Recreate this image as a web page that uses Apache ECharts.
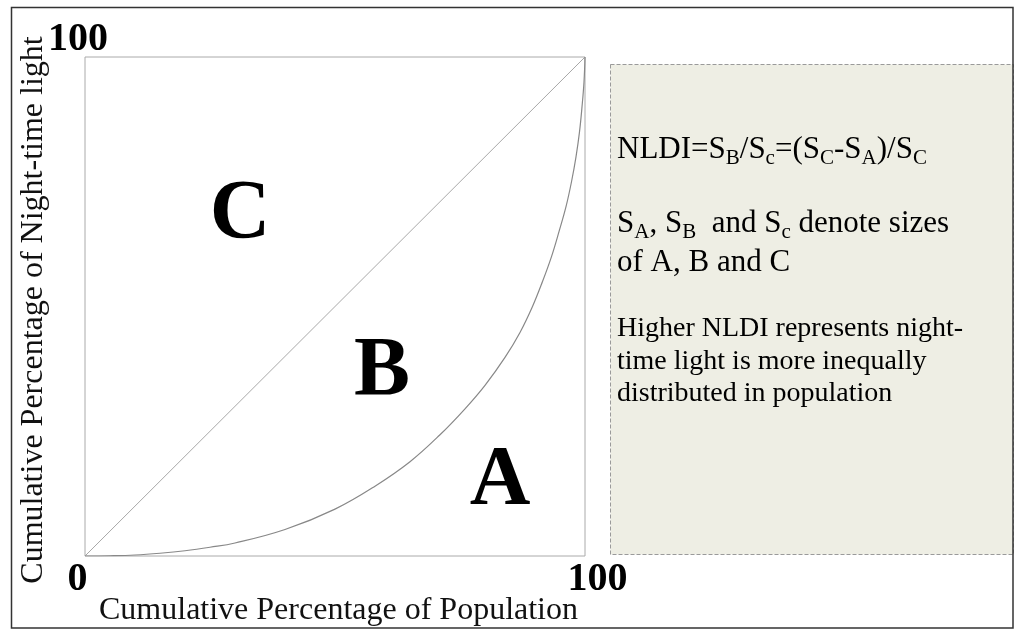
<!DOCTYPE html>
<html>
<head>
<meta charset="utf-8">
<script src="https://cdn.jsdelivr.net/npm/echarts@6/dist/echarts.min.js"></script>
<style>html,body{margin:0;padding:0;background:#fff;}#c{width:1024px;height:636px;}</style>
</head>
<body>
<div id="c"></div>
<script>
// ---- data ----
const xTicks = [0, 100];
const yTicks = [100];
const equalityLine = [[0, 0], [100, 100]];
const lorenzX = [0, 5, 10, 15, 20, 25, 30, 40, 50, 58, 65, 71, 76, 80, 84, 87, 89.5, 91.5, 93.3, 94.8, 96.2, 97.3, 98.2, 98.9, 99.4, 99.8, 100];
const lorenzY = [0, 0.05, 0.2, 0.55, 1.05, 1.75, 2.6, 5.3, 9.4, 14.0, 18.9, 24.3, 29.5, 34.2, 39.8, 44.8, 50, 55, 60, 65, 70, 75, 80, 85, 90, 95, 100];
const regionNames = ['C', 'B', 'A'];
const regionX = [31, 59.4, 83];
const regionY = [68, 36.6, 14.8];
const xTitle = 'Cumulative Percentage of Population';
const yTitle = 'Cumulative Percentage of Night-time light';
const noteLines = [
  '{n|NLDI=S}{s|B}{n|/S}{s|c}{n|=(S}{s|C}{n|-S}{s|A}{n|)/S}{s|C}',
  '{n|S}{s|A}{n|, S}{s|B}{n|  and S}{s|c}{n| denote sizes}',
  '{n|of A, B and C}',
  '{m|Higher NLDI represents night-}',
  '{m|time light is more inequally}',
  '{m|distributed in population}'
];
const noteLineY = [150, 224, 263, 329, 362, 394];

// ---- chart ----
const serif = 'Liberation Serif';
const chart = echarts.init(document.getElementById('c'));
const lorenz = lorenzX.map((x, i) => [x, lorenzY[i]]);
const regions = regionNames.map((n, i) => ({ name: n, value: [regionX[i], regionY[i]] }));

const richText = {
  n: { fontFamily: serif, fontSize: 31, color: '#111' },
  m: { fontFamily: serif, fontSize: 28, color: '#111' },
  s: { fontFamily: serif, fontSize: 21, color: '#111', padding: [16, 0, 0, 0] }
};

chart.setOption({
  animation: false,
  backgroundColor: '#fff',
  grid: { left: 85, top: 57, width: 500, height: 499, outerBoundsMode: 'none', containLabel: false,
    show: true, borderColor: '#aaaaaa', borderWidth: 1, backgroundColor: '#fff' },
  xAxis: {
    type: 'value', min: 0, max: 100, interval: 100,
    axisLine: { show: false }, axisTick: { show: false }, splitLine: { show: false },
    axisLabel: {
      margin: 4,
      formatter: v => xTicks.indexOf(v) >= 0 ? (v === 0 ? '{l|' + v + '}' : '{r|' + v + '}') : '',
      rich: {
        l: { fontFamily: serif, fontWeight: 'bold', fontSize: 40, color: '#000', padding: [0, 15, 0, 0] },
        r: { fontFamily: serif, fontWeight: 'bold', fontSize: 40, color: '#000', padding: [0, 0, 0, 25] }
      }
    },
    name: xTitle, nameLocation: 'middle', nameGap: 55, nameMoveOverlap: false,
    nameTextStyle: { fontFamily: serif, fontSize: 32, color: '#111', verticalAlign: 'middle', padding: [0, 0, 0, 7] }
  },
  yAxis: {
    type: 'value', min: 0, max: 100, interval: 100,
    axisLine: { show: false }, axisTick: { show: false }, splitLine: { show: false },
    axisLabel: {
      margin: 7, align: 'center', verticalAlign: 'bottom', lineHeight: 34,
      formatter: v => yTicks.indexOf(v) >= 0 ? String(v) : '',
      fontFamily: serif, fontWeight: 'bold', fontSize: 40, color: '#000'
    },
    name: yTitle, nameLocation: 'middle', nameGap: 51, nameMoveOverlap: false,
    nameTextStyle: { fontFamily: serif, fontSize: 32, color: '#111', verticalAlign: 'middle', padding: [0, 7, 0, 0] }
  },
  graphic: [
    { type: 'rect', z: -1, shape: { x: 610.5, y: 64.5, width: 403, height: 490 },
      style: { fill: '#eeeee4', stroke: '#9a9a9a', lineWidth: 1, lineDash: [4, 2] } },
    { type: 'rect', z: 100, shape: { x: 11.5, y: 7.5, width: 1001.5, height: 620.5 },
      style: { fill: 'none', stroke: '#333', lineWidth: 1.5 } }
  ].concat(noteLines.map((t, i) => ({
    type: 'text', z: 10, x: 617, y: noteLineY[i],
    style: { text: t, rich: richText, verticalAlign: 'middle', align: 'left' }
  }))),
  series: [
    { type: 'line', data: equalityLine, symbol: 'none', silent: true,
      lineStyle: { color: '#a8a8a8', width: 1 } },
    { type: 'line', data: lorenz, symbol: 'none', smooth: 0.4, silent: true,
      lineStyle: { color: '#888', width: 1.2 } },
    { type: 'scatter', data: regions, symbolSize: 0, silent: true, z: 5,
      itemStyle: { color: '#000' },
      label: { show: true, position: 'inside', formatter: p => p.name, opacity: 1,
        fontFamily: serif, fontWeight: 'bold', fontSize: 84, color: '#000' } }
  ]
});
</script>
</body>
</html>
